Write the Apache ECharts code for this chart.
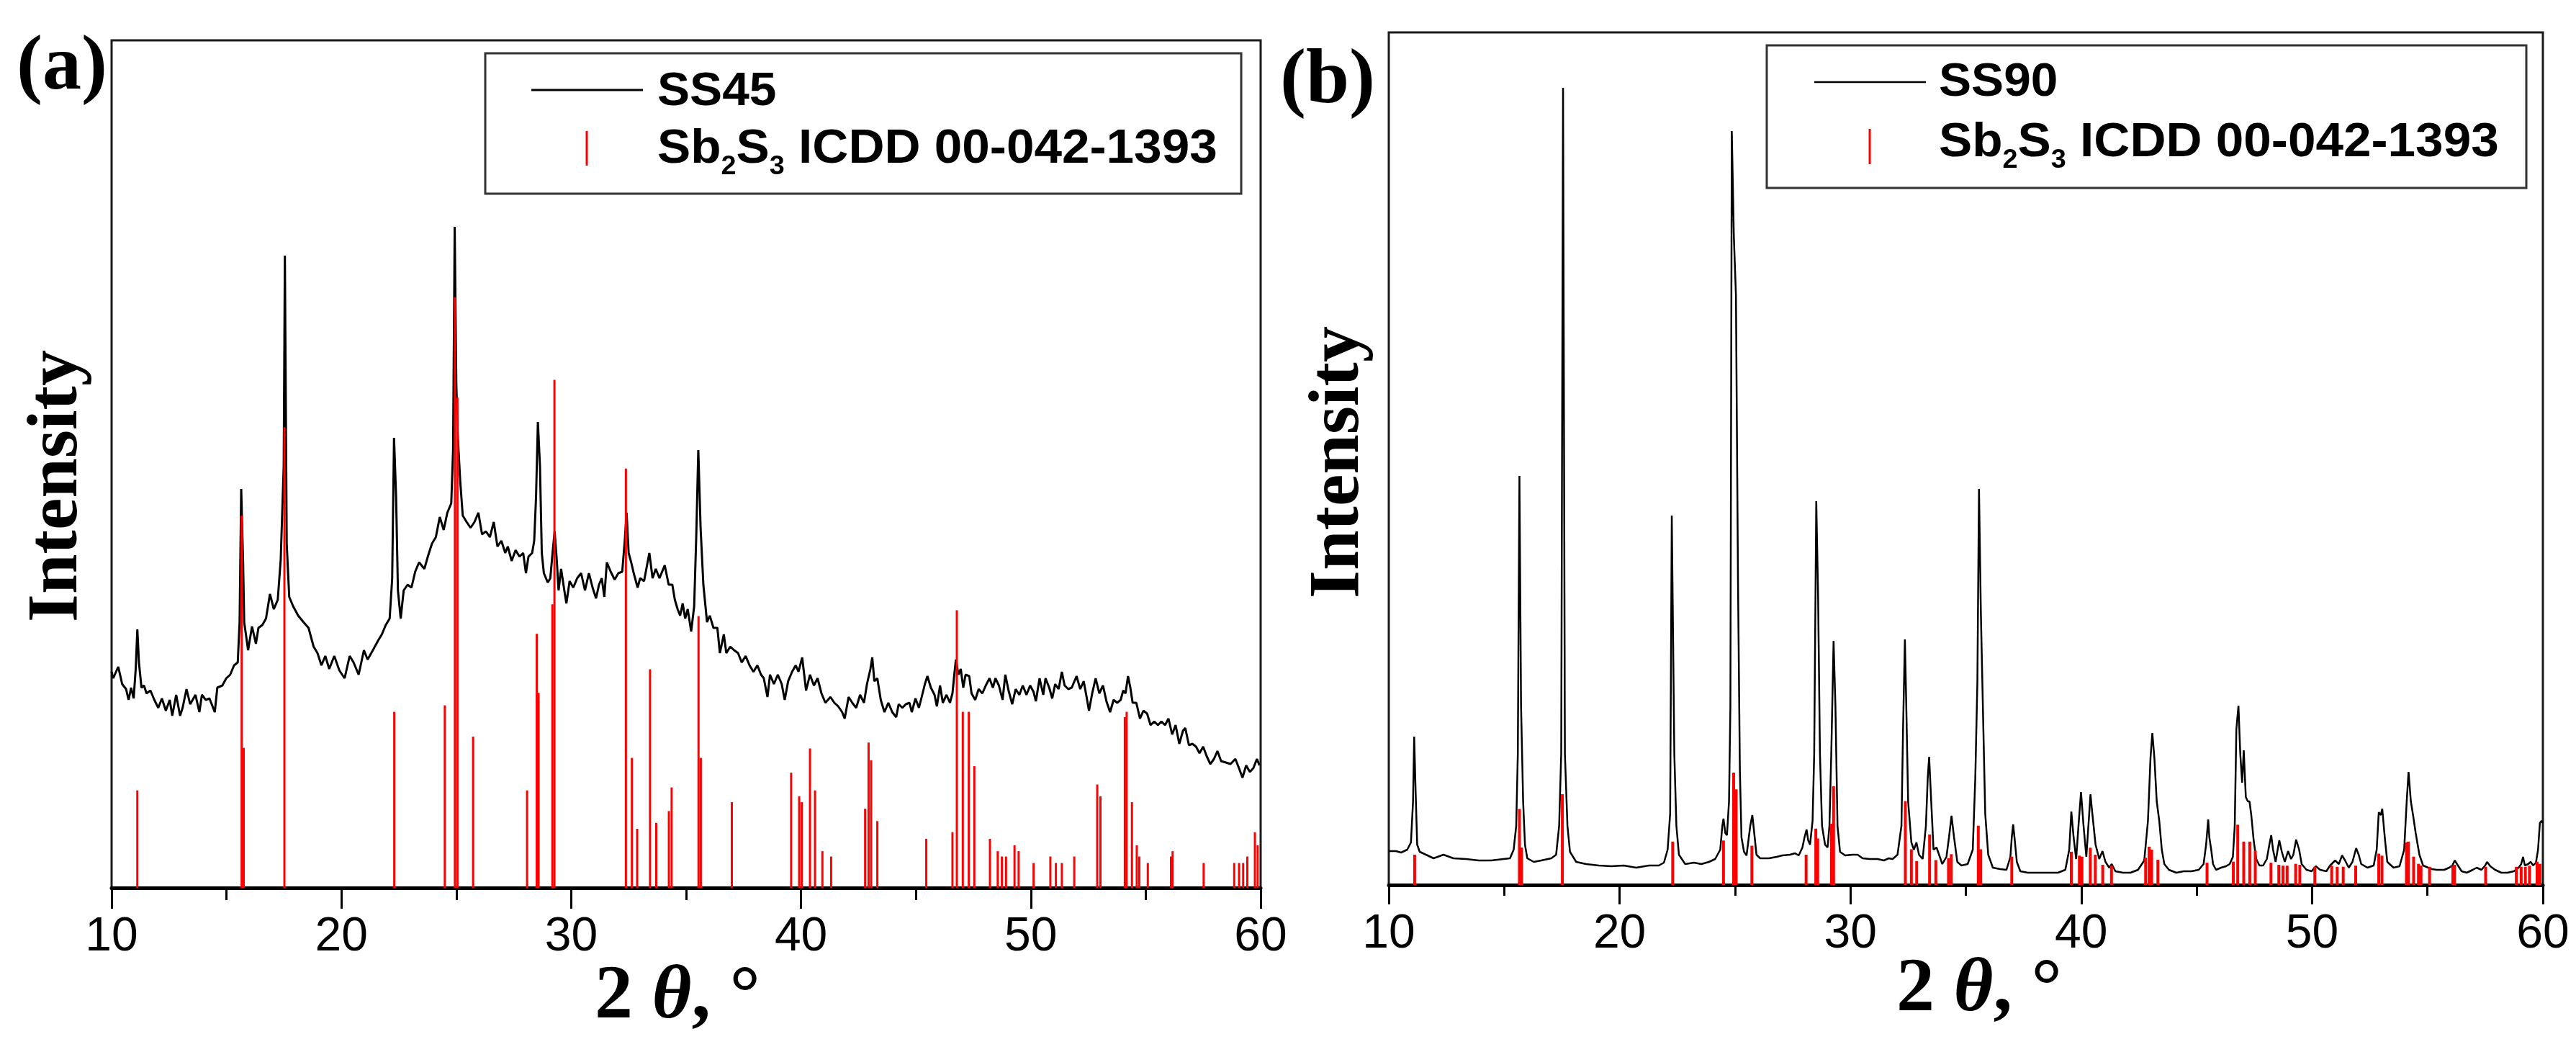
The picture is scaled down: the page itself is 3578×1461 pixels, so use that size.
<!DOCTYPE html>
<html><head><meta charset="utf-8">
<script src="https://cdn.jsdelivr.net/npm/echarts@6/dist/echarts.min.js"></script>
<style>html,body{margin:0;padding:0;background:#fff}#c{width:3578px;height:1461px}</style>
</head><body><div id="c"></div>
<script>
// ---------- data ----------
const thetaMin = 10, thetaMax = 60, thetaStep = 10;

// SS45 pattern: [2theta, intensity (a.u.)]
const ss45 = [
[10.00,300],[10.07,291],[10.29,307],[10.46,283],[10.63,276],[10.74,261],[10.85,278],[10.96,263],[11.05,304],[11.12,359],
[11.19,313],[11.30,278],[11.41,281],[11.52,270],[11.69,274],[11.86,261],[12.03,250],[12.19,263],[12.36,246],[12.53,261],
[12.64,239],[12.81,268],[12.98,239],[13.09,250],[13.26,276],[13.42,255],[13.65,268],[13.82,244],[13.93,268],[14.10,261],
[14.26,263],[14.49,244],[14.60,278],[14.82,281],[14.99,291],[15.16,296],[15.33,309],[15.49,313],[15.57,369],[15.64,554],
[15.72,456],[15.77,369],[15.94,330],[16.11,363],[16.28,339],[16.39,361],[16.56,365],[16.72,374],[16.89,408],[17.06,387],
[17.23,400],[17.36,456],[17.49,586],[17.54,878],[17.62,478],[17.73,404],[17.90,391],[18.12,378],[18.35,369],[18.57,361],
[18.79,335],[18.96,326],[19.13,309],[19.30,322],[19.47,304],[19.69,322],[19.91,302],[20.14,291],[20.36,322],[20.53,313],
[20.75,296],[20.98,330],[21.14,317],[21.37,330],[21.59,343],[21.76,352],[21.93,365],[22.10,374],[22.21,430],[22.29,625],
[22.38,543],[22.46,413],[22.58,374],[22.71,413],[22.88,421],[23.05,417],[23.21,439],[23.38,452],[23.61,443],[23.77,461],
[23.94,478],[24.11,487],[24.28,515],[24.45,497],[24.61,521],[24.78,534],[24.86,608],[24.93,918],[25.00,700],[25.06,630],
[25.17,565],[25.28,517],[25.45,508],[25.62,500],[25.79,508],[25.96,521],[26.12,491],[26.29,495],[26.46,487],[26.63,508],
[26.79,474],[26.96,482],[27.13,465],[27.24,474],[27.41,454],[27.58,469],[27.75,460],[27.91,465],[28.03,437],[28.14,460],
[28.30,465],[28.39,482],[28.47,543],[28.55,647],[28.64,586],[28.72,465],[28.81,437],[28.98,424],[29.09,430],[29.20,469],
[29.28,495],[29.37,456],[29.45,413],[29.56,443],[29.70,413],[29.79,395],[29.93,426],[30.09,417],[30.26,430],[30.43,437],
[30.60,413],[30.77,437],[30.93,417],[31.08,402],[31.21,421],[31.33,430],[31.44,404],[31.55,452],[31.72,439],[31.89,428],
[32.05,437],[32.22,439],[32.33,482],[32.41,521],[32.50,465],[32.61,452],[32.72,437],[32.89,417],[33.00,430],[33.17,426],
[33.40,465],[33.54,430],[33.68,443],[33.84,430],[34.07,448],[34.24,421],[34.40,421],[34.51,400],[34.63,387],[34.74,378],
[34.85,395],[34.96,374],[35.07,387],[35.22,356],[35.35,391],[35.44,487],[35.53,608],[35.63,500],[35.75,421],[35.91,369],
[36.03,378],[36.19,361],[36.36,361],[36.47,326],[36.64,352],[36.75,326],[36.92,335],[37.09,330],[37.26,326],[37.42,313],
[37.59,322],[37.76,309],[37.93,300],[38.10,309],[38.26,296],[38.38,291],[38.54,265],[38.65,296],[38.82,283],[38.99,296],
[39.16,283],[39.29,261],[39.44,287],[39.61,300],[39.77,309],[39.89,300],[40.05,320],[40.22,274],[40.39,296],[40.56,281],
[40.72,291],[40.89,270],[41.06,257],[41.28,265],[41.45,257],[41.62,252],[41.79,244],[41.90,235],[42.07,265],[42.23,257],
[42.40,250],[42.57,268],[42.74,257],[42.87,283],[43.02,304],[43.10,320],[43.19,287],[43.32,291],[43.47,261],[43.63,244],
[43.80,257],[43.97,244],[44.14,237],[44.25,255],[44.41,250],[44.56,255],[44.72,257],[44.82,244],[44.98,263],[45.13,250],
[45.29,270],[45.39,283],[45.50,294],[45.65,278],[45.81,268],[45.91,252],[46.05,281],[46.17,257],[46.33,268],[46.48,257],
[46.59,270],[46.67,296],[46.74,317],[46.85,296],[46.95,304],[47.06,278],[47.16,296],[47.32,294],[47.42,270],[47.58,261],
[47.73,276],[47.89,270],[48.04,281],[48.20,291],[48.35,278],[48.46,291],[48.61,281],[48.77,261],[48.89,296],[49.03,274],
[49.19,255],[49.34,276],[49.50,268],[49.65,281],[49.81,268],[49.97,281],[50.12,272],[50.22,259],[50.38,291],[50.54,268],
[50.64,291],[50.80,278],[50.93,263],[51.06,283],[51.21,276],[51.35,300],[51.47,281],[51.63,276],[51.78,278],[51.99,294],
[52.15,276],[52.30,287],[52.41,268],[52.53,246],[52.67,270],[52.82,291],[52.98,270],[53.14,281],[53.29,259],[53.45,244],
[53.60,261],[53.76,257],[53.91,261],[54.02,274],[54.12,270],[54.23,294],[54.33,278],[54.43,257],[54.59,257],[54.75,235],
[54.90,246],[55.06,242],[55.21,226],[55.37,231],[55.53,226],[55.68,231],[55.84,226],[55.99,235],[56.15,213],[56.30,226],
[56.46,200],[56.62,218],[56.72,222],[56.88,198],[57.03,200],[57.19,196],[57.34,187],[57.50,196],[57.65,183],[57.81,172],
[57.97,179],[58.12,190],[58.28,176],[58.49,174],[58.69,172],[58.90,179],[59.06,166],[59.21,153],[59.37,170],[59.53,161],
[59.68,166],[59.84,179],[59.95,170]
];

// SS90 pattern: [2theta, intensity (a.u.)]
const ss90 = [
[10.00,47],[10.31,47],[10.53,45],[10.80,49],[10.96,59],[11.05,116],[11.10,206],[11.16,132],[11.23,56],[11.34,46],
[11.61,42],[11.94,37],[12.37,42],[12.80,37],[13.35,36],[13.89,34],[14.43,34],[14.97,36],[15.25,37],[15.41,49],
[15.52,82],[15.59,182],[15.66,568],[15.73,249],[15.82,116],[15.90,56],[16.00,37],[16.28,32],[16.60,34],[17.04,37],
[17.25,42],[17.38,82],[17.47,182],[17.55,1107],[17.63,182],[17.74,82],[17.85,46],[18.12,32],[18.55,29],[19.10,27],
[19.64,26],[20.18,27],[20.72,24],[21.27,27],[21.70,27],[21.92,31],[22.08,49],[22.19,99],[22.26,513],[22.37,182],
[22.46,82],[22.57,42],[22.84,29],[23.22,31],[23.54,29],[23.87,32],[24.14,36],[24.36,49],[24.45,82],[24.50,92],
[24.58,72],[24.65,69],[24.74,116],[24.80,249],[24.86,1047],[24.95,900],[25.04,819],[25.13,420],[25.21,160],[25.28,66],
[25.39,46],[25.50,41],[25.66,82],[25.75,97],[25.82,76],[25.93,42],[26.09,37],[26.47,37],[26.80,39],[27.05,41],
[27.38,42],[27.60,44],[27.76,41],[27.92,52],[28.01,66],[28.10,77],[28.17,62],[28.25,56],[28.36,89],[28.43,182],
[28.52,533],[28.60,400],[28.68,182],[28.77,82],[28.90,56],[29.01,52],[29.09,82],[29.17,182],[29.27,339],[29.35,249],
[29.44,82],[29.55,46],[29.77,41],[30.09,42],[30.31,42],[30.53,37],[30.85,36],[31.18,36],[31.45,34],[31.66,37],
[31.83,36],[32.04,42],[32.21,82],[32.28,216],[32.36,341],[32.42,249],[32.50,116],[32.64,59],[32.75,49],[32.86,59],
[32.97,42],[33.13,36],[33.27,82],[33.35,149],[33.41,178],[33.50,116],[33.60,49],[33.73,52],[33.84,42],[33.98,29],
[34.16,39],[34.27,66],[34.38,96],[34.49,66],[34.63,32],[34.81,27],[35.08,29],[35.30,49],[35.41,149],[35.50,282],
[35.57,550],[35.65,380],[35.76,216],[35.84,99],[35.97,42],[36.17,24],[36.49,22],[36.76,21],[36.93,39],[36.99,66],
[37.05,84],[37.12,62],[37.21,32],[37.36,19],[37.69,17],[38.12,17],[38.55,17],[38.99,17],[39.31,21],[39.48,49],
[39.57,102],[39.67,66],[39.78,36],[39.88,82],[39.99,129],[40.10,82],[40.22,39],[40.31,82],[40.40,126],[40.49,96],
[40.62,56],[40.78,36],[40.92,47],[41.05,32],[41.21,24],[41.32,29],[41.48,19],[41.81,17],[42.13,17],[42.46,21],
[42.73,34],[42.89,89],[43.00,176],[43.08,211],[43.17,176],[43.27,116],[43.38,89],[43.49,49],[43.60,29],[43.80,21],
[44.12,17],[44.44,19],[44.77,19],[45.09,21],[45.30,29],[45.41,56],[45.50,91],[45.55,66],[45.63,49],[45.71,29],
[45.84,21],[46.06,24],[46.27,26],[46.43,29],[46.57,39],[46.65,82],[46.72,216],[46.81,249],[46.89,182],[46.97,142],
[47.04,187],[47.13,122],[47.22,116],[47.29,116],[47.37,96],[47.47,62],[47.58,36],[47.72,27],[47.88,27],[48.04,36],
[48.15,56],[48.23,69],[48.31,49],[48.42,32],[48.51,49],[48.58,62],[48.69,46],[48.82,32],[48.96,47],[49.09,36],
[49.19,42],[49.31,63],[49.44,49],[49.55,29],[49.76,21],[49.98,19],[50.16,26],[50.35,21],[50.62,19],[50.78,27],
[51.00,34],[51.16,29],[51.30,41],[51.43,34],[51.59,24],[51.75,32],[51.91,51],[52.02,42],[52.13,29],[52.40,24],
[52.67,27],[52.80,49],[52.89,101],[52.98,97],[53.04,106],[53.15,66],[53.26,32],[53.53,24],[53.79,26],[53.99,49],
[54.10,116],[54.18,157],[54.28,116],[54.38,96],[54.49,72],[54.65,42],[54.81,27],[55.03,24],[55.19,22],[55.41,21],
[55.73,21],[55.94,24],[56.08,27],[56.18,34],[56.32,27],[56.48,19],[56.70,17],[56.96,21],[57.13,24],[57.34,21],
[57.50,27],[57.58,32],[57.72,26],[57.93,21],[58.20,17],[58.47,17],[58.74,19],[58.95,24],[59.06,29],[59.14,39],
[59.22,27],[59.36,29],[59.47,32],[59.58,27],[59.70,31],[59.79,49],[59.87,86],[59.94,89],[60.00,86]
];

// Sb2S3 reference ICDD 00-042-1393: positions and relative intensities (%)
const icddTheta = [11.12,15.66,15.75,17.52,22.30,24.50,24.94,25.05,25.73,28.08,28.50,28.58,29.18,29.27,32.38,32.64,32.87,33.43,33.70,34.25,34.37,35.54,35.64,36.99,39.57,39.92,40.03,40.39,40.61,40.93,41.31,42.79,42.94,43.05,43.32,45.45,46.59,46.78,47.04,47.30,47.54,48.22,48.56,48.74,48.92,49.29,49.47,50.12,50.85,51.09,51.35,51.89,52.89,53.03,54.09,54.17,54.40,54.61,54.72,55.09,56.10,56.17,57.52,58.85,59.06,59.24,59.42,59.75,59.87];
const icddRel = [16.5,63,23.7,78,29.8,30.9,100,83,25.6,16.5,43,33,48,86,71,22,10,37,11,13,17,46,22,14.5,19.5,15.5,14.5,23.6,16.5,6.2,5.3,13.4,24.6,21.6,11.3,8.3,9.4,47,29.8,29.8,20.6,8.3,6.2,5.3,5.3,7.2,6.2,4.2,5.3,4.2,4.2,5.3,17.5,15.5,28.9,29.8,14.5,7.2,5.3,4.2,5.3,6.2,4.2,4.2,4.2,4.2,5.3,9.4,7.2];

const nameA = 'SS45', nameB = 'SS90', nameRef = 'Sb2S3 ICDD 00-042-1393';
// ---------- chart ----------
const icdd = icddTheta.map((t, i) => [t, icddRel[i]]);
const redBaseA = 0, redBaseB = -14.3;

function stick(base, w) {
  return function (params, api) {
    const x = api.value(0), v = api.value(1);
    const p0 = api.coord([x, base]), p1 = api.coord([x, v]);
    return { type: 'line', shape: { x1: p0[0], y1: p0[1], x2: p1[0], y2: p1[1] },
      style: { stroke: '#ff0000', lineWidth: w } };
  };
}
function xAx(g, tickLen, minorLen) {
  return { type: 'value', gridIndex: g, min: thetaMin, max: thetaMax, interval: thetaStep,
    axisLine: { show: true, onZero: false, lineStyle: { color: '#000', width: 5 } },
    axisTick: { show: true, inside: false, length: tickLen, lineStyle: { color: '#000', width: 3 } },
    minorTick: { show: true, splitNumber: 2, length: minorLen, lineStyle: { color: '#000', width: 3 } },
    axisLabel: { margin: 36, fontSize: 66, fontFamily: '"Liberation Sans Narrow", "Liberation Sans", sans-serif', color: '#000' },
    splitLine: { show: false }, minorSplitLine: { show: false } };
}
const serif = 'Liberation Serif', sans = 'Liberation Sans';
function legendBox(bx, by, bw, bh, lx1, lx2, ly, lw, rx, ry1, ry2, tx, ty1, ty2, label) {
  return [
    { type: 'rect', z: 100, shape: { x: bx, y: by, width: bw, height: bh }, style: { fill: '#fff', stroke: '#333', lineWidth: 3 } },
    { type: 'line', z: 101, shape: { x1: lx1, y1: ly, x2: lx2, y2: ly }, style: { stroke: '#000', lineWidth: lw } },
    { type: 'line', z: 101, shape: { x1: rx, y1: ry1, x2: rx, y2: ry2 }, style: { stroke: '#ff0000', lineWidth: 3 } },
    { type: 'text', z: 101, x: tx, y: ty1, scaleX: 1.04, style: { text: label, fontSize: 65, fontWeight: 'bold', fontFamily: sans, fill: '#000', align: 'left', verticalAlign: 'middle' } },
    { type: 'text', z: 101, x: tx, y: ty2, scaleX: 1.05, style: {
        text: '{m|Sb}{s|2}{m|S}{s|3}{m| ICDD 00-042-1393}', align: 'left', verticalAlign: 'middle',
        rich: { m: { fontSize: 66, fontWeight: 'bold', fontFamily: sans, fill: '#000', lineHeight: 84 },
                s: { fontSize: 36, fontWeight: 'bold', fontFamily: sans, fill: '#000', lineHeight: 6, verticalAlign: 'bottom' } } } }
  ];
}
function thetaTitle(cx, cy) {
  return { type: 'text', x: cx, y: cy, style: {
    text: '{n|2 }{i|θ}{n|, °}', align: 'center', verticalAlign: 'middle',
    rich: { n: { fontSize: 106, fontWeight: 'bold', fontFamily: serif, fill: '#000' },
            i: { fontSize: 106, fontWeight: 'bold', fontStyle: 'italic', fontFamily: serif, fill: '#000' } } } };
}

const chart = echarts.init(document.getElementById('c'), null, { renderer: 'canvas' });
chart.setOption({
  animation: false,
  backgroundColor: '#fff',
  grid: [
    { left: 155, right: 1827, top: 56, bottom: 228, show: true, borderColor: '#1a1a1a', borderWidth: 3 },
    { left: 1929, right: 46, top: 45, bottom: 232, show: true, borderColor: '#1a1a1a', borderWidth: 3 }
  ],
  xAxis: [xAx(0, 29, 17), xAx(1, 27, 15)],
  yAxis: [
    { type: 'value', gridIndex: 0, min: 0, max: 1177, show: false },
    { type: 'value', gridIndex: 0, min: redBaseA, max: 143.5, show: false },
    { type: 'value', gridIndex: 1, min: 0, max: 1184, show: false },
    { type: 'value', gridIndex: 1, min: redBaseB, max: 853, show: false }
  ],
  series: [
    { type: 'line', name: nameA, xAxisIndex: 0, yAxisIndex: 0, data: ss45, symbol: 'none', silent: true,
      lineStyle: { color: '#000', width: 3 }, z: 2 },
    { type: 'custom', name: nameRef, xAxisIndex: 0, yAxisIndex: 1, data: icdd, renderItem: stick(redBaseA, 3), silent: true, z: 3 },
    { type: 'line', name: nameB, xAxisIndex: 1, yAxisIndex: 2, data: ss90, symbol: 'none', silent: true,
      lineStyle: { color: '#000', width: 2.5 }, z: 2 },
    { type: 'custom', name: nameRef, xAxisIndex: 1, yAxisIndex: 3, data: icdd, renderItem: stick(redBaseB, 4), silent: true, z: 3 }
  ],
  graphic: [
    { type: 'text', x: 23, y: 95, style: { text: '(a)', fontSize: 108, fontWeight: 'bold', fontFamily: serif, fill: '#000', align: 'left', verticalAlign: 'middle' } },
    { type: 'text', x: 1778, y: 114, style: { text: '(b)', fontSize: 108, fontWeight: 'bold', fontFamily: serif, fill: '#000', align: 'left', verticalAlign: 'middle' } },
    { type: 'text', x: 80, y: 675, rotation: Math.PI / 2, style: { text: 'Intensity', fontSize: 100, fontWeight: 'bold', fontFamily: serif, fill: '#000', align: 'center', verticalAlign: 'middle' } },
    { type: 'text', x: 1860, y: 642, rotation: Math.PI / 2, style: { text: 'Intensity', fontSize: 100, fontWeight: 'bold', fontFamily: serif, fill: '#000', align: 'center', verticalAlign: 'middle' } },
    thetaTitle(941, 1386),
    thetaTitle(2749, 1376)
  ].concat(
    legendBox(674, 74, 1050, 195, 738, 893, 125, 3, 815, 182, 230, 913, 128, 208, nameA),
    legendBox(2454, 63, 1055, 198, 2520, 2675, 114, 2.5, 2597, 179, 228, 2693, 115, 199, nameB)
  )
});
</script></body></html>
